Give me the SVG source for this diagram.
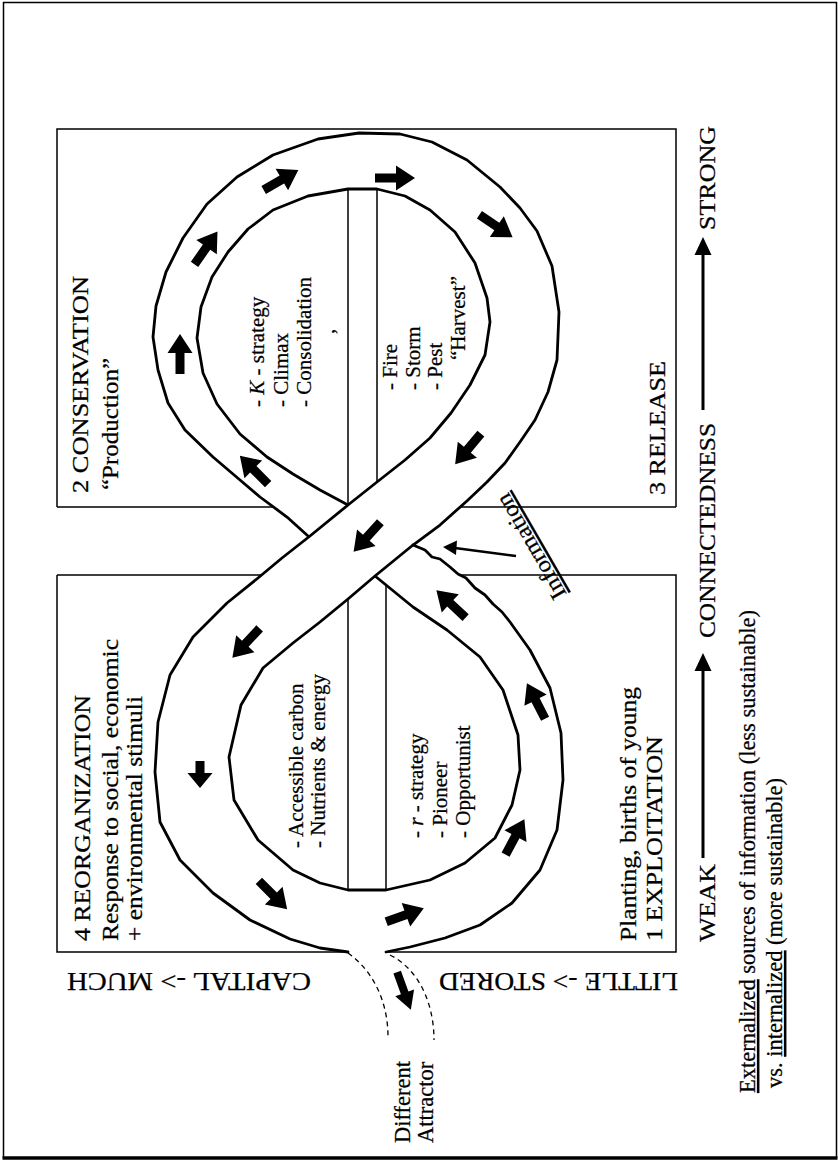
<svg xmlns="http://www.w3.org/2000/svg" width="840" height="1164" viewBox="0 0 840 1164">
<style>
  text { font-family: "Liberation Serif", "Times New Roman", serif; fill: #000; stroke: #000; stroke-width: 0.25; }
  .hd { font-size: 23px; }
  .ax { font-size: 24px; }
  .it { font-size: 21px; }
  .nt { font-size: 22.5px; }
  .cap { font-size: 25px; }
  .edge { fill: none; stroke: #000; stroke-width: 2.8; stroke-linejoin: round; stroke-linecap: round; }
  .box { fill: none; stroke: #000; stroke-width: 1.5; }
  .div { fill: none; stroke: #000; stroke-width: 1.5; }
  .dash { fill: none; stroke: #000; stroke-width: 1.3; stroke-dasharray: 5 4; }
  .blk { fill: #000; }
  .thin { fill: none; stroke: #000; stroke-width: 2.6; }
</style>
<defs>
  <!-- block arrow pointing along +x, centred on the origin -->
  <path id="ba" d="M-20,-4.5 H1 V-12.5 L20,0 L1,12.5 V4.5 H-20 Z"/>
  <path id="bs" d="M-12,-4.5 H0 V-12.5 L15,0 L0,12.5 V4.5 H-12 Z"/>
  <path id="bn" d="M-20,-4 H2 V-10 L20,0 L2,10 V4 H-20 Z"/>
</defs>

<rect x="0" y="0" width="840" height="1164" fill="#fff"/>

<!-- page frame -->
<g id="frame">
  <path d="M3.5,1158 V2.5 H836.5 V1158" class="box" stroke-width="2"/>
  <path d="M2.5,1158 H837.5" fill="none" stroke="#000" stroke-width="3.5"/>
</g>

<!-- upper panel: conservation / release -->
<g id="panel-upper">
  <path class="box" d="M57,507 V129 H676 V507"/>
  <path class="box" d="M57,507 H273 M460,507 H676"/>
  <path class="div" d="M348,189 V505 M377,189 V482"/>
</g>

<!-- lower panel: reorganization / exploitation -->
<g id="panel-lower">
  <path class="box" d="M57,575 H261 M461,575 H676 V952 H386 M348,952 H57 V575"/>
  <path class="div" d="M348,599 V890 M386,585 V890"/>
</g>

<!-- figure-eight band -->
<g id="loop">
  <path class="edge" d="M348,505 L320,490 L293,474 L267,457 L240,434 L217,404 L203,373 L197,338 L201,307 L212,277 L228,252 L248,229 L273,210 L308,196 L348,189 L377,189 L405,196 L430,210 L455,232 L475,263 L487,298 L490,322 L485,355 L470,385 L451,413 L430,438 L405,460 L377,482 L348,505 L310,536 L282,558 L258,578 L227,603 L193,637 L170,675 L158,722 L155,772 L160,822 L180,860 L213,893 L250,920 L290,939 L320,948 L348,952"/>
  <path class="edge" d="M308,536 L287,517 L260,497 L240,480 L213,457 L185,430 L168,403 L158,370 L153,337 L156,306 L166,272 L183,238 L207,204 L237,177 L273,155 L318,139 L359,133 L400,134 L432,142 L467,160 L500,187 L520,208 L537,231 L552,266 L559,312 L557,360 L548,392 L535,420 L520,442 L505,463 L487,482 L468,500 L440,525 L413,545 L375,576 L348,599 L320,622 L293,643 L263,668 L241,705 L229,757 L234,800 L258,840 L293,870 L320,883 L348,890 L386,890 L430,880 L465,863 L495,838 L512,805 L520,770 L518,735 L503,690 L480,657 L447,630 L413,607 L375,576"/>
  <path class="edge" d="M413,545 L425,550 L432,557 L440,559 L450,567 L458,574 L466,578 L475,588 L485,595 L493,604 L502,612 L510,622 L530,650 L550,688 L561,733 L563,780 L557,830 L540,870 L512,903 L480,925 L445,938 L410,947 L386,952"/>
</g>

<!-- flow arrows along the band -->
<g id="flow-arrows" class="blk">
  <use href="#ba" transform="translate(254,470) rotate(-135)"/>
  <use href="#ba" transform="translate(180,354) rotate(-90)"/>
  <use href="#ba" transform="translate(206,248) rotate(-55)"/>
  <use href="#ba" transform="translate(281,180) rotate(-30)"/>
  <use href="#ba" transform="translate(395,178)"/>
  <use href="#ba" transform="translate(496,226) rotate(34)"/>
  <use href="#ba" transform="translate(468,449) rotate(130)"/>
  <use href="#ba" transform="translate(367,537) rotate(132)"/>
  <use href="#ba" transform="translate(246,643) rotate(133)"/>
  <use href="#bs" transform="translate(200,773) rotate(90)"/>
  <use href="#ba" transform="translate(273,895) rotate(45)"/>
  <use href="#ba" transform="translate(405,915) rotate(-20)"/>
  <use href="#ba" transform="translate(515,837) rotate(-62)"/>
  <use href="#ba" transform="translate(536,701) rotate(-117)"/>
  <use href="#ba" transform="translate(451,604) rotate(-137)"/>
</g>

<!-- escape to a different attractor -->
<g id="exit">
  <path class="dash" d="M348,953 C372,970 388,1000 388,1037"/>
  <path class="dash" d="M390,955 C420,970 434,1005 434,1040"/>
  <use href="#bn" class="blk" transform="translate(404,991) rotate(70)"/>
  <text class="nt" transform="translate(410,1143) rotate(-90)">Different</text>
  <text class="nt" transform="translate(433,1143) rotate(-90)">Attractor</text>
</g>

<!-- information input -->
<g id="information">
  <path class="thin" d="M516,556 L455,548"/>
  <polygon class="blk" points="443,547 457,540.5 456,555"/>
  <text class="hd" font-size="23" textLength="118" lengthAdjust="spacingAndGlyphs" text-decoration="underline" transform="translate(567,594) rotate(-120)">Information</text>
</g>

<g id="phase-conservation">
  <text class="hd" textLength="217" lengthAdjust="spacingAndGlyphs" transform="translate(88,493) rotate(-90)">2 CONSERVATION</text>
  <text class="hd" textLength="132" lengthAdjust="spacingAndGlyphs" transform="translate(118,490) rotate(-90)">“Production”</text>
  <text class="it" transform="translate(264,407) rotate(-90)">- <tspan font-style="italic">K</tspan> - strategy</text>
  <text class="it" transform="translate(288,407) rotate(-90)">- Climax</text>
  <text class="it" transform="translate(311,407) rotate(-90)">- Consolidation</text>
  <text class="it" transform="translate(334,334) rotate(-90)">,</text>
</g>

<g id="phase-release">
  <text class="hd" textLength="134" lengthAdjust="spacingAndGlyphs" transform="translate(665,495) rotate(-90)">3 RELEASE</text>
  <text class="it" transform="translate(397,390) rotate(-90)">- Fire</text>
  <text class="it" transform="translate(420,390) rotate(-90)">- Storm</text>
  <text class="it" transform="translate(442,390) rotate(-90)">- Pest</text>
  <text class="it" transform="translate(465,360) rotate(-90)">“Harvest”</text>
</g>

<g id="phase-reorganization">
  <text class="hd" textLength="246" lengthAdjust="spacingAndGlyphs" transform="translate(90,941) rotate(-90)">4 REORGANIZATION</text>
  <text class="hd" textLength="302" lengthAdjust="spacingAndGlyphs" transform="translate(118,941) rotate(-90)">Response to social, economic</text>
  <text class="hd" textLength="245" lengthAdjust="spacingAndGlyphs" transform="translate(142,941) rotate(-90)">+ environmental stimuli</text>
  <text class="it" transform="translate(303,848) rotate(-90)">- Accessible carbon</text>
  <text class="it" transform="translate(325,848) rotate(-90)">- Nutrients &amp; energy</text>
</g>

<g id="phase-exploitation">
  <text class="hd" textLength="254" lengthAdjust="spacingAndGlyphs" transform="translate(636,941) rotate(-90)">Planting, births of young</text>
  <text class="hd" textLength="205" lengthAdjust="spacingAndGlyphs" transform="translate(662,941) rotate(-90)">1 EXPLOITATION</text>
  <text class="it" transform="translate(423,838) rotate(-90)">- <tspan font-style="italic">r</tspan> - strategy</text>
  <text class="it" transform="translate(447,838) rotate(-90)">- Pioneer</text>
  <text class="it" transform="translate(470,838) rotate(-90)">- Opportunist</text>
</g>

<!-- connectedness axis -->
<g id="axis-connectedness">
  <text class="ax" textLength="78" lengthAdjust="spacingAndGlyphs" transform="translate(715,942) rotate(-90)">WEAK</text>
  <path d="M703,858 V668" fill="none" stroke="#000" stroke-width="3"/>
  <polygon class="blk" points="703,653 694.5,671 711.5,671"/>
  <text class="ax" textLength="215" lengthAdjust="spacingAndGlyphs" transform="translate(715,638) rotate(-90)">CONNECTEDNESS</text>
  <path d="M703,410 V252" fill="none" stroke="#000" stroke-width="3"/>
  <polygon class="blk" points="703,237 694.5,255 711.5,255"/>
  <text class="ax" textLength="104" lengthAdjust="spacingAndGlyphs" transform="translate(715,230) rotate(-90)">STRONG</text>
</g>

<!-- stored-capital axis, printed upside down -->
<g id="axis-capital">
  <text class="cap" textLength="244" lengthAdjust="spacingAndGlyphs" transform="translate(311,973) rotate(180)">CAPITAL -&gt; MUCH</text>
  <text class="cap" textLength="239" lengthAdjust="spacingAndGlyphs" transform="translate(678,973) rotate(180)">LITTLE -&gt; STORED</text>
</g>

<g id="notes">
  <text class="nt" transform="translate(755,1093) rotate(-90)"><tspan text-decoration="underline">Externalized</tspan> sources of information (less sustainable)</text>
  <text class="nt" transform="translate(782,1088) rotate(-90)">vs. <tspan text-decoration="underline">internalized</tspan> (more sustainable)</text>
</g>
</svg>
